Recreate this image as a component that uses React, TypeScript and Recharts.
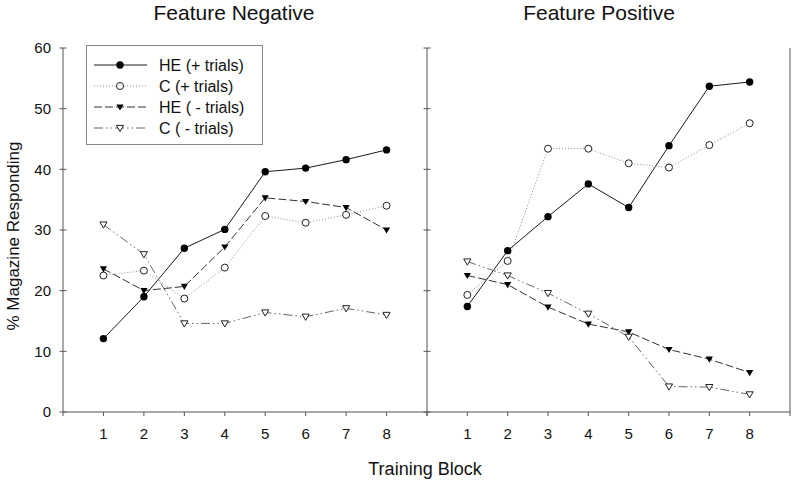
import React from "react";
import { LineChart, Line, XAxis, YAxis, Legend } from "recharts";

const blocks = [1, 2, 3, 4, 5, 6, 7, 8];

// Feature Negative panel
const negHePlus = [12.1, 19.0, 27.0, 30.1, 39.6, 40.2, 41.6, 43.2];
const negCPlus = [22.5, 23.3, 18.7, 23.8, 32.3, 31.2, 32.5, 34.0];
const negHeMinus = [23.6, 20.0, 20.7, 27.2, 35.3, 34.7, 33.7, 30.0];
const negCMinus = [30.9, 26.0, 14.6, 14.6, 16.4, 15.7, 17.1, 16.0];

// Feature Positive panel
const posHePlus = [17.4, 26.6, 32.2, 37.6, 33.7, 43.9, 53.7, 54.4];
const posCPlus = [19.3, 24.9, 43.4, 43.4, 41.0, 40.3, 44.0, 47.6];
const posHeMinus = [22.5, 21.0, 17.3, 14.5, 13.2, 10.3, 8.7, 6.5];
const posCMinus = [24.8, 22.5, 19.6, 16.2, 12.4, 4.2, 4.1, 2.9];

const yTicks = [0, 10, 20, 30, 40, 50, 60];
const xTicks = [0, 1, 2, 3, 4, 5, 6, 7, 8, 9];

const FONT = "'Liberation Sans', Arial, sans-serif";
const AXIS = "#555";

type MarkerKind = "dot" | "ring" | "tri" | "openTri";

const series: { key: string; name: string; marker: MarkerKind; stroke: string; dash?: string }[] = [
  { key: "hePlus", name: "HE (+ trials)", marker: "dot", stroke: "#1a1a1a" },
  { key: "cPlus", name: "C (+ trials)", marker: "ring", stroke: "#8c8c8c", dash: "1 2" },
  { key: "heMinus", name: "HE ( - trials)", marker: "tri", stroke: "#333", dash: "8 3" },
  { key: "cMinus", name: "C ( - trials)", marker: "openTri", stroke: "#666", dash: "9 3 1.5 3 1.5 3" },
];

const buildRows = (a: number[], b: number[], c: number[], d: number[]) =>
  blocks.map((block, i) => ({ block, hePlus: a[i], cPlus: b[i], heMinus: c[i], cMinus: d[i] }));

const negData = buildRows(negHePlus, negCPlus, negHeMinus, negCMinus);
const posData = buildRows(posHePlus, posCPlus, posHeMinus, posCMinus);

function Marker({ kind, cx, cy }: { kind: MarkerKind; cx: number; cy: number }) {
  if (cx == null || cy == null) return null;
  if (kind === "dot") return <circle cx={cx} cy={cy} r={3.7} fill="#000" />;
  if (kind === "ring") return <circle cx={cx} cy={cy} r={3.5} fill="#fff" stroke="#222" strokeWidth={1} />;
  const pts = `${cx - 3.6},${cy - 2.6} ${cx + 3.6},${cy - 2.6} ${cx},${cy + 3.6}`;
  return kind === "tri" ? (
    <polygon points={pts} fill="#000" />
  ) : (
    <polygon points={pts} fill="#fff" stroke="#222" strokeWidth={1} />
  );
}

function YTick(props: any) {
  const { x, y, payload, showLabel } = props;
  return (
    <g>
      <line x1={x - 3.5} x2={x + 3.5} y1={y} y2={y} stroke={AXIS} />
      {showLabel && (
        <text x={x - 12} y={y} dy="0.36em" textAnchor="end" fontSize={15} fontFamily={FONT} fill="#111">
          {payload.value}
        </text>
      )}
    </g>
  );
}

function LegendBox() {
  return (
    <div style={{ width: 175, height: 98, border: "1px solid #888", background: "#fff" }}>
      <svg width={175} height={98}>
        {series.map((s, i) => {
          const y = 19 + i * 21;
          return (
            <g key={s.key}>
              <line x1={7} x2={60} y1={y} y2={y} stroke={s.stroke} strokeDasharray={s.dash} />
              <Marker kind={s.marker} cx={33} cy={y} />
              <text x={72} y={y} dy="0.36em" fontSize={16} fontFamily={FONT} fill="#111">
                {s.name}
              </text>
            </g>
          );
        })}
      </svg>
    </div>
  );
}

function seriesLines(yAxisId: string) {
  return series.map((s) => (
    <Line
      key={s.key}
      yAxisId={yAxisId}
      dataKey={s.key}
      name={s.name}
      type="linear"
      stroke={s.stroke}
      strokeWidth={1}
      strokeDasharray={s.dash}
      dot={(p: any) => <Marker key={`${s.key}-${p.index}`} kind={s.marker} cx={p.cx} cy={p.cy} />}
      activeDot={false}
      isAnimationActive={false}
    />
  ));
}

const xAxisProps = {
  dataKey: "block",
  type: "number" as const,
  domain: [0, 9],
  ticks: xTicks,
  interval: 0 as const,
  height: 30,
  tickSize: 4,
  tickMargin: 12,
  stroke: AXIS,
  tick: { fontSize: 15, fontFamily: FONT, fill: "#111" },
  tickFormatter: (v: number) => (v === 0 || v === 9 ? "" : String(v)),
};

export default function App() {
  return (
    <div style={{ position: "absolute", left: 0, top: 0, width: 800, height: 482, background: "#fff" }}>
      <div style={{ position: "absolute", left: 0, top: 0 }}>
        <LineChart width={440} height={482} data={negData} margin={{ top: 48, right: 13, bottom: 40, left: 13 }}>
          <XAxis {...xAxisProps} />
          <YAxis
            yAxisId="l"
            domain={[0, 60]}
            ticks={yTicks}
            width={50}
            tickSize={0}
            tickMargin={0}
            stroke={AXIS}
            tick={(p: any) => <YTick {...p} showLabel />}
          />
          <Legend
            layout="vertical"
            align="center"
            verticalAlign="middle"
            wrapperStyle={{ left: 86, top: 45, width: 177, height: 100 }}
            content={() => <LegendBox />}
          />
          {seriesLines("l")}
        </LineChart>
      </div>
      <div style={{ position: "absolute", left: 0, top: 0 }}>
        <LineChart width={800} height={482} data={posData} margin={{ top: 48, right: 5, bottom: 40, left: 417 }}>
          <XAxis {...xAxisProps} />
          <YAxis
            yAxisId="l"
            domain={[0, 60]}
            ticks={yTicks}
            width={10}
            tickSize={0}
            tickMargin={0}
            stroke={AXIS}
            tick={(p: any) => <YTick {...p} />}
          />
          <YAxis
            yAxisId="r"
            orientation="right"
            domain={[0, 60]}
            ticks={yTicks}
            width={5}
            tickSize={0}
            tickMargin={0}
            stroke={AXIS}
            tick={(p: any) => <YTick {...p} />}
          />
          {seriesLines("l")}
        </LineChart>
      </div>
      <svg width={800} height={482} style={{ position: "absolute", left: 0, top: 0, pointerEvents: "none" }}>
        <text x={234} y={20} textAnchor="middle" fontSize={21} fontFamily={FONT} fill="#111">
          Feature Negative
        </text>
        <text x={599} y={20} textAnchor="middle" fontSize={21} fontFamily={FONT} fill="#111">
          Feature Positive
        </text>
        <text x={425} y={475} textAnchor="middle" fontSize={18} fontFamily={FONT} fill="#111">
          Training Block
        </text>
        <text
          x={0}
          y={0}
          transform="translate(19,236) rotate(-90)"
          textAnchor="middle"
          fontSize={17}
          fontFamily={FONT}
          fill="#111"
        >
          % Magazine Responding
        </text>
      </svg>
    </div>
  );
}
